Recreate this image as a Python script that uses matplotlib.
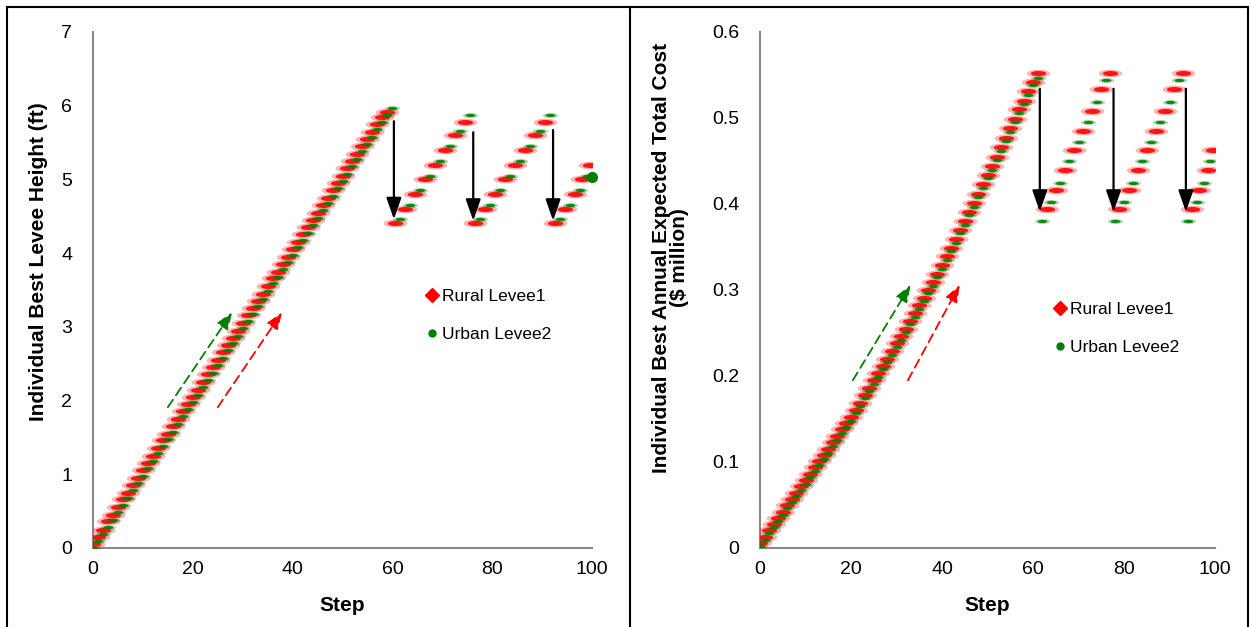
import matplotlib
matplotlib.use("Agg")
from matplotlib import pyplot as plt
from matplotlib.lines import Line2D
from matplotlib.path import Path
from matplotlib.transforms import Affine2D

plt.rcParams["font.family"] = ["Liberation Sans", "DejaVu Sans"]
plt.rcParams["font.size"] = 13

RED = "#ff0000"
GREEN = "#008000"

# ---- left panel: levee height (ft) ----
rural_h_steps = list(range(0, 60)) + [
    60.5, 62.5, 64.5, 66.5, 68.5, 70.5, 72.5, 74.5,
    76.5, 78.5, 80.5, 82.5, 84.5, 86.5, 88.5, 90.5,
    92.5, 94.5, 96.5, 98, 99.5]
rural_h = [
    0.06, 0.15, 0.25, 0.36, 0.45, 0.55, 0.66, 0.75, 0.85, 0.95,
    1.06, 1.15, 1.25, 1.35, 1.46, 1.55, 1.65, 1.75, 1.86, 1.95,
    2.05, 2.15, 2.25, 2.36, 2.45, 2.55, 2.66, 2.75, 2.85, 2.95,
    3.05, 3.16, 3.25, 3.35, 3.45, 3.55, 3.66, 3.75, 3.85, 3.95,
    4.05, 4.15, 4.26, 4.35, 4.45, 4.55, 4.65, 4.75, 4.86, 4.95,
    5.05, 5.15, 5.25, 5.35, 5.46, 5.55, 5.65, 5.75, 5.85, 5.92,
    4.41, 4.60, 4.80, 5.00, 5.20, 5.40, 5.60, 5.78,
    4.41, 4.60, 4.80, 5.00, 5.20, 5.40, 5.60, 5.78,
    4.41, 4.60, 4.80, 5.00, 5.20]

urban_h_steps = list(range(0, 61)) + [
    61.5, 63.5, 65.5, 67.5, 69.5, 71.5, 73.5, 75.5,
    77.5, 79.5, 81.5, 83.5, 85.5, 87.5, 89.5, 91.5,
    93.5, 95.5, 97.5, 99]
urban_h = [
    0.00, 0.09, 0.19, 0.29, 0.38, 0.49, 0.58, 0.68, 0.79, 0.88,
    0.98, 1.08, 1.18, 1.29, 1.38, 1.48, 1.58, 1.68, 1.79, 1.88,
    1.98, 2.08, 2.18, 2.28, 2.38, 2.48, 2.58, 2.69, 2.78, 2.88,
    2.98, 3.08, 3.18, 3.28, 3.38, 3.48, 3.59, 3.68, 3.78, 3.88,
    3.98, 4.08, 4.18, 4.28, 4.38, 4.48, 4.58, 4.68, 4.78, 4.88,
    4.98, 5.08, 5.18, 5.28, 5.38, 5.48, 5.58, 5.68, 5.78, 5.87,
    5.97,
    4.46, 4.65, 4.86, 5.05, 5.25, 5.45, 5.66, 5.87,
    4.46, 4.65, 4.86, 5.05, 5.25, 5.45, 5.66, 5.87,
    4.46, 4.65, 4.86, 5.05]
urban_h_final = (100, 5.03)

# ---- right panel: annual expected total cost ($ million) ----
rural_c_steps = list(range(0, 62)) + [
    63, 65, 67, 69, 71, 73, 75, 77,
    79, 81, 83, 85, 87, 89, 91, 93,
    95, 96.5, 98.5, 99.5]
rural_c = [
    0.006, 0.013, 0.021, 0.028, 0.035, 0.042, 0.050, 0.057, 0.064, 0.072,
    0.079, 0.086, 0.094, 0.101, 0.108, 0.115, 0.123, 0.130, 0.138, 0.145,
    0.152, 0.161, 0.169, 0.178, 0.186, 0.195, 0.203, 0.212, 0.220, 0.229,
    0.238, 0.246, 0.255, 0.264, 0.273, 0.282, 0.291, 0.300, 0.309, 0.319,
    0.329, 0.339, 0.349, 0.359, 0.370, 0.380, 0.391, 0.401, 0.412, 0.423,
    0.434, 0.444, 0.455, 0.466, 0.477, 0.488, 0.499, 0.510, 0.520, 0.531,
    0.542, 0.552,
    0.394, 0.416, 0.439, 0.463, 0.485, 0.508, 0.534, 0.552,
    0.394, 0.416, 0.439, 0.463, 0.485, 0.508, 0.534, 0.552,
    0.394, 0.416, 0.439, 0.463]

urban_c_steps = list(range(0, 62)) + [
    62, 64, 66, 68, 70, 72, 74, 76,
    78, 80, 82, 84, 86, 88, 90, 92,
    94, 96, 97.5, 99]
urban_c = [
    0.002, 0.009, 0.017, 0.024, 0.031, 0.038, 0.046, 0.053, 0.060, 0.068,
    0.075, 0.082, 0.090, 0.097, 0.104, 0.111, 0.119, 0.126, 0.134, 0.141,
    0.148, 0.157, 0.165, 0.174, 0.182, 0.191, 0.199, 0.208, 0.216, 0.225,
    0.234, 0.242, 0.251, 0.260, 0.269, 0.278, 0.287, 0.296, 0.305, 0.315,
    0.325, 0.335, 0.345, 0.355, 0.366, 0.376, 0.387, 0.397, 0.408, 0.419,
    0.430, 0.440, 0.451, 0.462, 0.473, 0.484, 0.495, 0.506, 0.516, 0.527,
    0.538, 0.547,
    0.380, 0.402, 0.424, 0.450, 0.472, 0.495, 0.519, 0.544,
    0.380, 0.402, 0.424, 0.450, 0.472, 0.495, 0.519, 0.544,
    0.380, 0.402, 0.424, 0.450]

# smeared horizontal marks, like the original export
SMEAR = Path.unit_circle().transformed(Affine2D().scale(1.0, 0.33))


def style_axes(ax, ymax, yticks, yticklabels):
    ax.set_xlim(0, 100)
    ax.set_ylim(0, ymax)
    ax.set_xticks([0, 20, 40, 60, 80, 100])
    ax.set_yticks(yticks)
    ax.set_yticklabels(yticklabels)
    for side in ["top", "right"]:
        ax.spines[side].set_visible(False)
    for side in ["left", "bottom"]:
        ax.spines[side].set_color("#898989")
        ax.spines[side].set_linewidth(1.5)
    ax.tick_params(axis="both", length=0, labelsize=14)
    ax.tick_params(axis="y", pad=15)
    ax.tick_params(axis="x", pad=9)
    ax.set_xlabel("Step", fontweight="bold", fontsize=15, labelpad=13)


def draw_series(ax, rx, ry, gx, gy):
    # faint halo + solid core imitates the blurred marks
    ax.plot(rx, ry, ls="none", marker=SMEAR, markersize=17,
            markerfacecolor=RED, markeredgewidth=0, alpha=0.3, zorder=3)
    ax.plot(rx, ry, ls="none", marker=SMEAR, markersize=11,
            markerfacecolor=RED, markeredgewidth=0, alpha=0.9, zorder=3)
    ax.plot(gx, gy, ls="none", marker=SMEAR, markersize=11,
            markerfacecolor=GREEN, markeredgewidth=0, alpha=0.3, zorder=4)
    ax.plot(gx, gy, ls="none", marker=SMEAR, markersize=7,
            markerfacecolor=GREEN, markeredgewidth=0, alpha=0.9, zorder=4)


def add_legend(ax, x, y):
    handles = [
        Line2D([], [], ls="none", marker="D", color=RED, markersize=7),
        Line2D([], [], ls="none", marker="o", color=GREEN, markersize=5),
    ]
    ax.legend(handles, ["Rural Levee1", "Urban Levee2"], loc="upper left",
              bbox_to_anchor=(x, y), frameon=False, fontsize=12.5,
              handlelength=0.6, handletextpad=0.25, labelspacing=1.3,
              borderaxespad=0)


def drop_arrow(ax, x, y0, y1):
    ax.annotate("", xy=(x, y1), xytext=(x, y0),
                arrowprops=dict(arrowstyle="-|>,head_length=1.0,head_width=0.35",
                                color="black", lw=1.6, shrinkA=0, shrinkB=0),
                zorder=5)


def trend_arrow(ax, p0, p1, color):
    ax.annotate("", xy=p1, xytext=p0,
                arrowprops=dict(arrowstyle="-|>,head_length=0.8,head_width=0.3",
                                color=color, lw=1.3, linestyle=(0, (5, 3)),
                                shrinkA=0, shrinkB=0))


fig = plt.figure(figsize=(12.51, 6.27), dpi=100)
ax1 = fig.add_axes([93 / 1251, 1 - 548 / 627, 499 / 1251, 516 / 627])
ax2 = fig.add_axes([760 / 1251, 1 - 548 / 627, 455 / 1251, 516 / 627])

# left
style_axes(ax1, 7, range(0, 8), [str(v) for v in range(0, 8)])
draw_series(ax1, rural_h_steps, rural_h, urban_h_steps, urban_h)
ax1.plot([urban_h_final[0]], [urban_h_final[1]], ls="none", marker="o",
         markersize=7, color=GREEN, zorder=5, clip_on=False)
for x, y0, y1 in [(60.3, 5.79, 4.46), (76.2, 5.64, 4.44), (92.2, 5.67, 4.44)]:
    drop_arrow(ax1, x, y0, y1)
trend_arrow(ax1, (15, 1.91), (27.9, 3.2), GREEN)
trend_arrow(ax1, (25, 1.91), (37.9, 3.2), RED)
add_legend(ax1, 0.655, 0.515)
ax1.set_ylabel("Individual Best Levee Height (ft)", fontweight="bold", fontsize=15)
ax1.yaxis.set_label_coords(-0.09, 0.555)

# right
style_axes(ax2, 0.6, [0, 0.1, 0.2, 0.3, 0.4, 0.5, 0.6],
           ["0", "0.1", "0.2", "0.3", "0.4", "0.5", "0.6"])
draw_series(ax2, rural_c_steps, rural_c, urban_c_steps, urban_c)
for x in [61.5, 77.7, 93.6]:
    drop_arrow(ax2, x, 0.534, 0.391)
trend_arrow(ax2, (20.4, 0.195), (33.1, 0.306), GREEN)
trend_arrow(ax2, (32.5, 0.195), (43.9, 0.306), RED)
add_legend(ax2, 0.633, 0.49)
ax2.set_ylabel("Individual Best Annual Expected Total Cost\n($ million)",
               fontweight="bold", fontsize=15, linespacing=0.95)
ax2.yaxis.set_label_coords(-0.155, 0.562)

# outer frame and divider
W, H = 1251, 627
for xs, ys in [([7, 1248], [7, 7]), ([7, 7], [7, 627]),
               ([630, 630], [7, 627]), ([1248, 1248], [7, 627])]:
    fig.add_artist(Line2D([x / W for x in xs], [1 - y / H for y in ys],
                          color="black", lw=1.5))

fig.savefig("out.png", dpi=100)
